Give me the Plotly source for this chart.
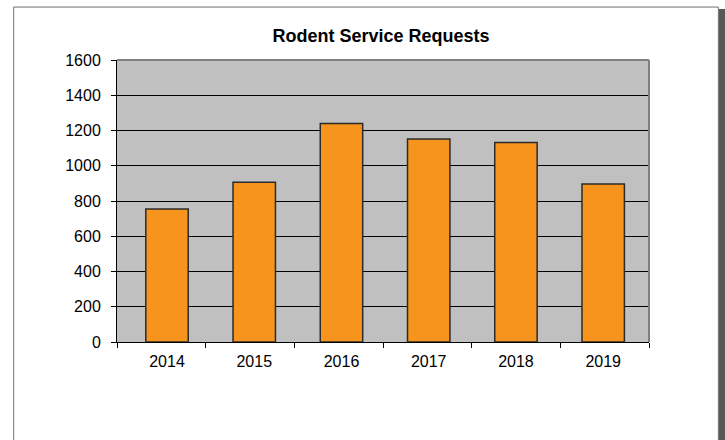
import plotly.graph_objects as go

years = ["2014", "2015", "2016", "2017", "2018", "2019"]
requests = [755, 906, 1240, 1152, 1132, 896]
y_ticks = [0, 200, 400, 600, 800, 1000, 1200, 1400, 1600]

W, H = 725, 440
L, R, T, B = 116.5, 649.5, 60, 342.3
pw, ph = R - L, B - T

def px(x):
    return (x - L) / pw

def py(y):
    return (B - y) / ph

# x scale: bars sit at indices, spacing 87.4 px, first centre at 166.6 px
step = 87.4
x0_px = 166.6
xr = [(L - x0_px) / step, (R - x0_px) / step]
n = len(years)
positions = list(range(n))
boundaries = [(L + k * pw / n - x0_px) / step for k in range(n + 1)]

fig = go.Figure(go.Bar(
    x=positions, y=requests,
    marker=dict(color="#F7941D", line=dict(color="#2b2b2b", width=1.5)),
    width=42.5 / step,
))
# invisible trace to activate the tick axis
fig.add_trace(go.Scatter(x=[positions[0]], y=[0], xaxis="x2", mode="markers",
                         marker=dict(opacity=0), hoverinfo="skip"))

font = "Liberation Sans, Arial, sans-serif"
fig.update_layout(
    width=W, height=H,
    margin=dict(l=L, r=W - R, t=T, b=H - B, pad=0),
    paper_bgcolor="white",
    plot_bgcolor="#C0C0C0",
    font=dict(family=font, size=16, color="black"),
    title=dict(text="<b>Rodent Service Requests</b>", x=px(381), xref="paper",
               xanchor="center", y=1 - 36 / H, yanchor="middle",
               font=dict(size=18, family=font, color="black")),
    showlegend=False,
    xaxis=dict(range=xr, tickvals=positions, ticktext=years, showgrid=False,
               showline=True, linecolor="black", linewidth=1, ticks="",
               zeroline=False, ticklabelstandoff=5),
    xaxis2=dict(range=xr, overlaying="x", anchor="y", side="bottom",
                tickvals=boundaries, showticklabels=False, ticks="outside",
                ticklen=5, tickcolor="black", tickwidth=1, showgrid=False,
                showline=False, zeroline=False),
    yaxis=dict(range=[0, 1600], tickvals=y_ticks, showgrid=True, gridcolor="black",
               gridwidth=1, showline=True, linecolor="black", linewidth=1,
               ticks="outside", ticklen=5, tickcolor="black", zeroline=False,
               ticklabelstandoff=7),
    shapes=[
        dict(type="line", xref="paper", yref="paper", x0=0, x1=1, y0=1, y1=1,
             line=dict(color="#808080", width=2)),
        dict(type="line", xref="paper", yref="paper", x0=1, x1=1, y0=0, y1=1,
             line=dict(color="#808080", width=2)),
        dict(type="rect", xref="paper", yref="paper", x0=px(13), x1=px(719),
             y0=py(446), y1=py(7), line=dict(color="#707070", width=1), layer="below"),
        dict(type="rect", xref="paper", yref="paper", x0=px(719.5), x1=px(726),
             y0=py(446), y1=py(9), fillcolor="#585858", line=dict(width=0), layer="below"),
    ],
)

fig.write_html("out.html")
